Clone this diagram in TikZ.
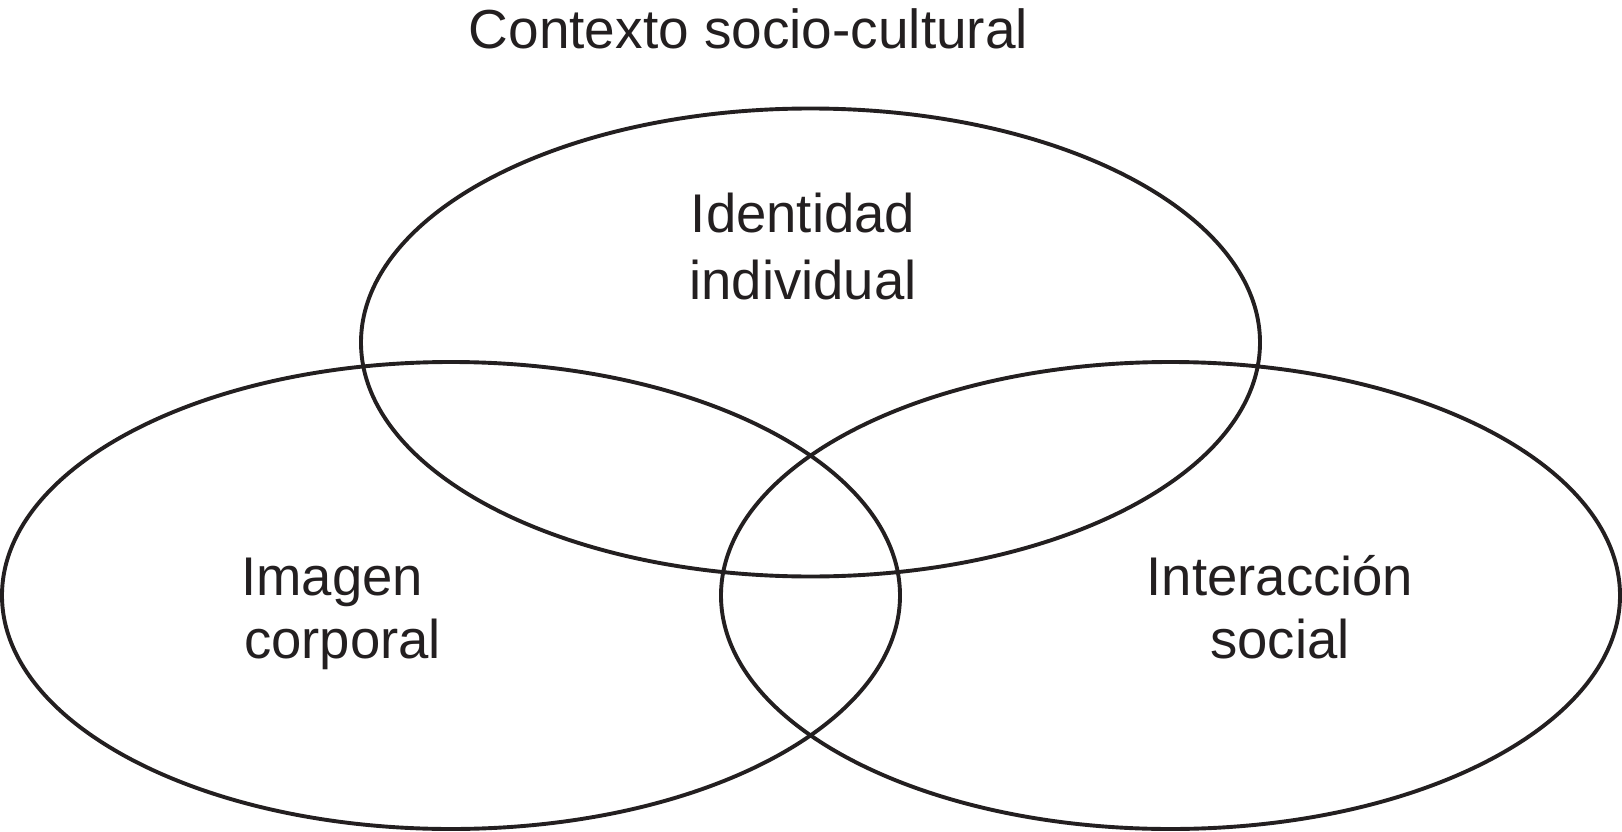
\documentclass[tikz,border=0pt]{standalone}
\usepackage{fontspec}
\setmainfont{Liberation Sans}
\definecolor{ink}{HTML}{231F20}
\begin{document}
\begin{tikzpicture}[x=1pt,y=1pt,
  ring/.style={draw=ink,line width=3.9pt},
  lbl/.style={inner sep=0pt,text=ink,font=\fontsize{54.5}{64}\selectfont},
  ttl/.style={inner sep=0pt,text=ink,font=\fontsize{55}{64}\selectfont}]
\useasboundingbox (0,-832) rectangle (1622,0);
\draw[ring] (810.5,-342.5) ellipse [x radius=449.5, y radius=234];
\draw[ring] (451,-595.5) ellipse [x radius=449, y radius=233.5];
\draw[ring] (1170.5,-595.5) ellipse [x radius=449.5, y radius=233.5];
\node[ttl,anchor=base] (title) at (748.5,-49) {Contexto socio-cultural};
\node[lbl,anchor=base] (id1) at (803,-232.7) {Identidad};
\node[lbl,anchor=base] (id2) at (803,-299.3) {individual};
\node[lbl,anchor=base west] (im1) at (241,-595) {Imagen};
\node[lbl,anchor=base west] (im2) at (244,-658.3) {corporal};
\node[lbl,anchor=base] (in1) at (1280,-595) {Interacción};
\node[lbl,anchor=base] (in2) at (1280,-658) {social};
\end{tikzpicture}
\end{document}
